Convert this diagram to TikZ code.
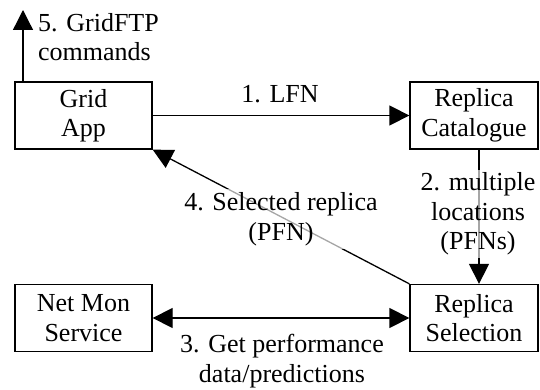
\documentclass[tikz,border=0pt]{standalone}
\usepackage{fontspec}
\setmainfont{Liberation Serif}
\usetikzlibrary{arrows.meta}

\begin{document}
\begin{tikzpicture}[x=1pt,y=-1pt,
  font=\fontsize{26}{29.5}\selectfont,
  box/.style={draw=black,line width=1.3pt,align=center,inner sep=0pt,minimum height=67pt},
  lbl/.style={align=center,inner sep=3pt},
  fade/.style={fill=white,fill opacity=0.65,text opacity=1},
  arr/.style={line width=1.3pt,-{Triangle[length=20pt,width=20pt]}},
  biarr/.style={line width=1.3pt,{Triangle[length=20pt,width=20pt]}-{Triangle[length=20pt,width=20pt]}}]
\useasboundingbox (0,0) rectangle (540,390);
\node [box,minimum width=137pt] (gridapp) at (83.5,115.5) {Grid\\App};
\node [box,minimum width=128pt] (catalogue) at (474,115.5) {Replica\\Catalogue};
\node [box,minimum width=137pt] (netmon) at (83.5,318) {Net Mon\\Service};
\node [box,minimum width=128pt] (selection) at (474,318) {Replica\\Selection};
\coordinate (tip5) at (23,10);
\coordinate (col2) at (479,0);
\draw [arr] (gridapp.north -| tip5) -- (tip5);
\draw [arr] (gridapp.east) -- (catalogue.west);
\draw [arr] (catalogue.south -| col2) -- (selection.north -| col2);
\draw [biarr] (netmon.east) -- (selection.west);
\draw [arr] (selection.north west) -- (gridapp.south east);
\node [lbl,align=left,anchor=west] (lbl5) at (35,37) {5. GridFTP\\commands};
\node [lbl] (lbl1) at (280,94) {1. LFN};
\node [lbl,fade] (lbl2) at (478,214) {2. multiple\\locations\\(PFNs)};
\node [lbl] (lbl3) at (282,361) {3. Get performance\\data/predictions};
\node [lbl,fade] (lbl4) at (281,219) {4. Selected replica\\(PFN)};
\end{tikzpicture}
\end{document}
